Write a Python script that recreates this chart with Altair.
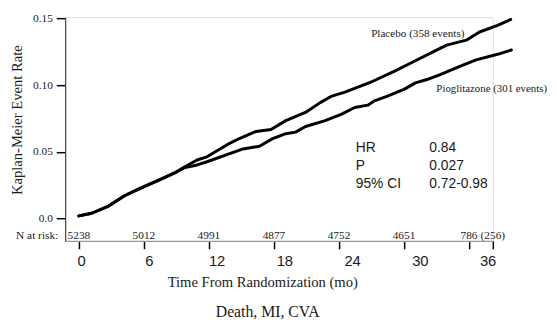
import altair as alt
import pandas as pd

# ---- data ----
placebo_months = [0, 1.18, 2.73, 4.25, 5.75, 7.27, 8.79, 9.7, 10.9, 11.82, 13.64, 14.8, 16.36, 17.73,
                  19.09, 20.91, 22.27, 23.34, 24.55, 27.12, 29.09, 30.91, 32.73, 33.94, 35.75, 36.97,
                  38.64, 39.85]
placebo_rate = [0.0020, 0.0040, 0.0094, 0.0173, 0.0230, 0.0284, 0.0340, 0.0385, 0.0439, 0.0463, 0.0552,
                0.0600, 0.0653, 0.0667, 0.0734, 0.0795, 0.0869, 0.0918, 0.0948, 0.1029, 0.1103, 0.1177,
                0.1251, 0.1300, 0.1337, 0.1398, 0.1448, 0.1492]
pio_months = [0, 1.18, 2.73, 4.25, 5.75, 7.27, 8.79, 9.7, 10.9, 11.82, 15.15, 16.66, 17.88, 19.09, 20.0,
              20.91, 22.73, 24.25, 25.45, 26.66, 27.27, 28.48, 30.0, 31.06, 32.12, 33.34, 35.15, 36.66,
              38.64, 39.91]
pio_rate = [0.0020, 0.0040, 0.0094, 0.0173, 0.0230, 0.0284, 0.0340, 0.0380, 0.0402, 0.0426, 0.0522,
            0.0542, 0.0599, 0.0636, 0.0648, 0.0690, 0.0734, 0.0783, 0.0832, 0.0850, 0.0882, 0.0918,
            0.0968, 0.1017, 0.1042, 0.1079, 0.1140, 0.1189, 0.1231, 0.1263]

risk_months = [0, 6, 12, 18, 24, 30, 36, 38.2]
risk_n = ["5238", "5012", "4991", "4877", "4752", "4651", "786", "(256)"]

tick_values = [0, 6, 12, 18, 24, 30, 36, 38.2]
tick_labels = [0, 6, 12, 18, 24, 30, 36]
y_ticks = [0, 0.05, 0.10, 0.15]

stat_names = ["HR", "P", "95% CI"]
stat_values = ["0.84", "0.027", "0.72-0.98"]

SERIF = "Liberation Serif"
SANS = "Liberation Sans"
INK = "#1a1a1a"

curves = pd.concat([
    pd.DataFrame({"month": placebo_months, "rate": placebo_rate, "arm": "Placebo"}),
    pd.DataFrame({"month": pio_months, "rate": pio_rate, "arm": "Pioglitazone"}),
])
risk = pd.DataFrame({"month": risk_months, "n": risk_n})

x_scale = alt.Scale(domain=[-1.27, 38.2], nice=False, zero=False)
y_scale = alt.Scale(domain=[-0.0167, 0.1509], nice=False, zero=False)

x_axis = alt.Axis(values=tick_values, labels=False, grid=False, domainColor="#9a9a9a", domainWidth=1.5,
                  tickColor="#000", tickWidth=1.5, tickSize=8,
                  title="Time From Randomization (mo)", titleFont=SERIF, titleFontSize=14.8,
                  titleFontWeight="normal", titleColor=INK, titleX=200, titleY=46,
                  titleAlign="center", titleBaseline="alphabetic")
y_axis = alt.Axis(values=y_ticks, grid=False, domainColor="#444", domainWidth=1.2,
                  tickColor="#000", tickWidth=1.5, tickSize=9, labelPadding=4,
                  labelFont=SERIF, labelFontSize=11.5, labelColor=INK, labelFlush=False,
                  labelExpr="datum.value == 0 ? '0.0' : format(datum.value, '.2f')",
                  title="Kaplan-Meier Event Rate", titleFont=SERIF, titleFontSize=14.8,
                  titleFontWeight="normal", titleColor=INK, titleX=-48, titleY=104,
                  titleAngle=270, titleAlign="center", titleBaseline="middle")

lines = alt.Chart(curves).mark_line(color="black", strokeWidth=3, strokeJoin="round",
                                     strokeCap="round", clip=False).encode(
    x=alt.X("month:Q", scale=x_scale, axis=x_axis),
    y=alt.Y("rate:Q", scale=y_scale, axis=y_axis),
    detail="arm:N",
)

risk_text = alt.Chart(risk).mark_text(font=SERIF, fontSize=11.5, color=INK, baseline="alphabetic").encode(
    x=alt.X("month:Q"),
    y=alt.value(225),
    text="n:N",
)

risk_title = alt.Chart(pd.DataFrame({"t": ["N at risk:"]})).mark_text(
    font=SERIF, fontSize=11.5, color=INK, align="right", baseline="alphabetic", dx=-7).encode(
    x=alt.value(0), y=alt.value(225), text="t:N")

lab_placebo = alt.Chart(pd.DataFrame({"t": ["Placebo (358 events)"]})).mark_text(
    font=SERIF, fontSize=11.3, color=INK, align="left", baseline="middle").encode(
    x=alt.datum(26.97), y=alt.datum(0.1386), text="t:N")
lab_pio = alt.Chart(pd.DataFrame({"t": ["Pioglitazone (301 events)"]})).mark_text(
    font=SERIF, fontSize=11, color=INK, align="right", baseline="middle").encode(
    x=alt.value(489), y=alt.datum(0.0970), text="t:N")

stats_names = alt.Chart(pd.DataFrame({"t": ["\n".join(stat_names)]})).mark_text(
    font=SANS, fontSize=14, color=INK, align="left", baseline="alphabetic",
    lineBreak="\n", lineHeight=18.3).encode(
    x=alt.datum(25.55), y=alt.datum(0.0501), text="t:N")
stats_vals = alt.Chart(pd.DataFrame({"t": ["\n".join(stat_values)]})).mark_text(
    font=SANS, fontSize=14, color=INK, align="left", baseline="alphabetic",
    lineBreak="\n", lineHeight=18.3).encode(
    x=alt.datum(32.34), y=alt.datum(0.0501), text="t:N")

footer = alt.Chart(pd.DataFrame({"t": ["Death, MI, CVA"]})).mark_text(
    font=SERIF, fontSize=16, color=INK, align="center", baseline="alphabetic").encode(
    x=alt.value(205.5), y=alt.value(304), text="t:N")

main = alt.layer(lines, risk_text, risk_title, lab_placebo, lab_pio, stats_names, stats_vals, footer)

# tick-label axis (labels in the reference sit slightly apart from the tick marks)
label_axis = alt.Chart(pd.DataFrame({"m": tick_labels})).mark_text(opacity=0, text=" ").encode(
    x=alt.X("m:Q", scale=alt.Scale(domain=[-1.414, 36.46], nice=False, zero=False),
            axis=alt.Axis(orient="bottom", values=tick_labels, domain=False, ticks=False, tickSize=0,
                          grid=False, labelPadding=13.4, labelFont=SANS, labelFontSize=15,
                          labelColor=INK, labelFlush=False, labelOverlap=False, title=None)),
    y=alt.value(0),
)

chart = alt.layer(main, label_axis).resolve_scale(x="independent").properties(
    width=434, height=227,
    autosize=alt.AutoSizeParams(type="none"),
    padding={"left": 58, "top": 7, "right": 57, "bottom": 81},
).configure_view(stroke=None).configure(background="white")

chart.save("out.html", embed_options={"renderer": "svg", "actions": False})
